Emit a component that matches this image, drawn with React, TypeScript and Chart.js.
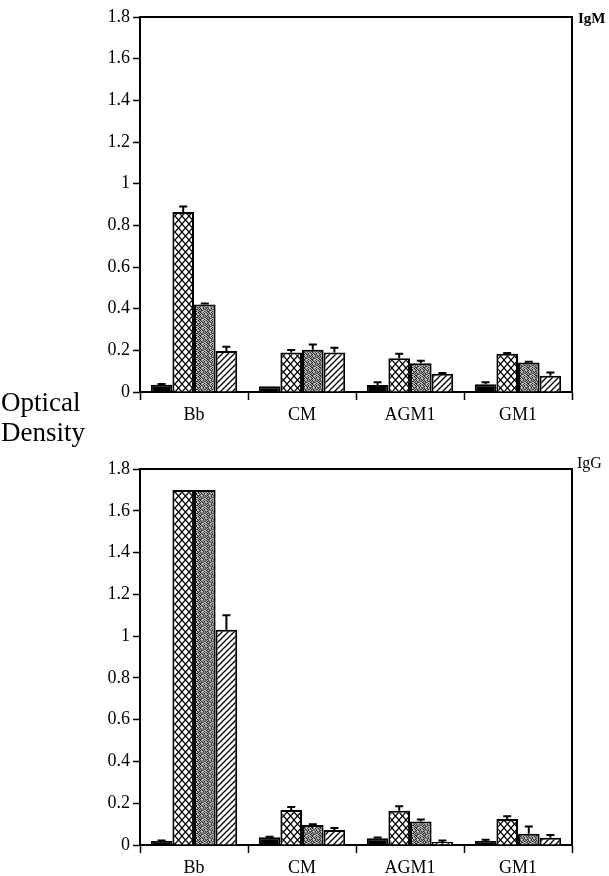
import React, { useEffect, useRef } from "react";
import { Chart, registerables } from "chart.js";

Chart.register(...registerables);

const categories = ["Bb", "CM", "AGM1", "GM1"];

// IgM panel
const igmBlack = [0.035, 0.028, 0.034, 0.037];
const igmBlackErr = [0.003, 0.0, 0.013, 0.01];
const igmCross = [0.864, 0.19, 0.162, 0.184];
const igmCrossErr = [0.026, 0.012, 0.022, 0.003];
const igmDotted = [0.42, 0.203, 0.138, 0.142];
const igmDottedErr = [0.005, 0.025, 0.012, 0.003];
const igmHatched = [0.197, 0.19, 0.088, 0.078];
const igmHatchedErr = [0.02, 0.022, 0.003, 0.016];

// IgG panel
const iggBlack = [0.019, 0.037, 0.032, 0.019];
const iggBlackErr = [0.003, 0.002, 0.004, 0.006];
const iggCross = [1.7, 0.168, 0.164, 0.124];
const iggCrossErr = [0.0, 0.014, 0.022, 0.014];
const iggDotted = [1.7, 0.096, 0.112, 0.054];
const iggDottedErr = [0.0, 0.003, 0.01, 0.034];
const iggHatched = [1.03, 0.072, 0.014, 0.035];
const iggHatchedErr = [0.07, 0.009, 0.008, 0.013];

const yMax = 1.8;
const yStep = 0.2;

const FONT = '"Liberation Serif", "Times New Roman", serif';

// fixed stipple texture for the grey bars (0 dark, 1 light, 2 mid)
const STIPPLE = [
  "02101201",
  "10210120",
  "01020112",
  "21101020",
  "01201201",
  "20120010",
  "10021102",
  "02110210",
];

function makePattern(kind: string): CanvasPattern | string {
  if (kind === "black") return "#000";
  const c = document.createElement("canvas");
  const ctx = c.getContext("2d")!;
  if (kind === "cross") {
    const w = 7;
    const h = 8;
    c.width = w;
    c.height = h;
    ctx.fillStyle = "#fff";
    ctx.fillRect(0, 0, w, h);
    ctx.strokeStyle = "#000";
    ctx.lineWidth = 1.2;
    ctx.beginPath();
    ctx.moveTo(0, 0);
    ctx.lineTo(w, h);
    ctx.moveTo(0, h);
    ctx.lineTo(w, 0);
    ctx.stroke();
  } else if (kind === "hatch") {
    const s = 6;
    c.width = s;
    c.height = s;
    ctx.fillStyle = "#fff";
    ctx.fillRect(0, 0, s, s);
    ctx.strokeStyle = "#000";
    ctx.lineWidth = 1.3;
    ctx.beginPath();
    ctx.moveTo(-1, s + 1);
    ctx.lineTo(s + 1, -1);
    ctx.moveTo(-2, 2);
    ctx.lineTo(2, -2);
    ctx.moveTo(s - 2, s + 2);
    ctx.lineTo(s + 2, s - 2);
    ctx.stroke();
  } else {
    const cols = ["#2c2c2c", "#c4c4c4", "#808080"];
    c.width = 8;
    c.height = 8;
    for (let r = 0; r < 8; r++)
      for (let k = 0; k < 8; k++) {
        ctx.fillStyle = cols[Number(STIPPLE[r][k])];
        ctx.fillRect(k, r, 1, 1);
      }
  }
  return ctx.createPattern(c, "repeat")!;
}

const errorBarPlugin = {
  id: "errorBars",
  afterDatasetsDraw(chart: any) {
    const ctx = chart.ctx;
    const yScale = chart.scales.y;
    ctx.save();
    ctx.strokeStyle = "#000";
    ctx.lineWidth = 2;
    chart.data.datasets.forEach((ds: any, i: number) => {
      const meta = chart.getDatasetMeta(i);
      meta.data.forEach((el: any, j: number) => {
        const err = ds.errors[j];
        if (!err) return;
        const yTop = yScale.getPixelForValue(ds.data[j]);
        const yErr = yScale.getPixelForValue(ds.data[j] + err);
        ctx.beginPath();
        ctx.moveTo(el.x, yTop);
        ctx.lineTo(el.x, yErr);
        ctx.moveTo(el.x - 4, yErr);
        ctx.lineTo(el.x + 4, yErr);
        ctx.stroke();
      });
    });
    ctx.restore();
  },
};

const boxPlugin = {
  id: "boxFrame",
  afterDraw(chart: any) {
    const { ctx, chartArea } = chart;
    ctx.save();
    ctx.strokeStyle = "#000";
    ctx.lineWidth = 2;
    ctx.beginPath();
    ctx.moveTo(chartArea.left, chartArea.top);
    ctx.lineTo(chartArea.right, chartArea.top);
    ctx.lineTo(chartArea.right, chartArea.bottom);
    ctx.stroke();
    ctx.restore();
  },
};

function Panel(props: {
  top: number;
  height: number;
  xHeight: number;
  series: number[][];
  errors: number[][];
}) {
  const ref = useRef<HTMLCanvasElement | null>(null);
  useEffect(() => {
    const kinds = ["black", "cross", "dotted", "hatch"];
    const chart = new Chart(ref.current!, {
      type: "bar",
      data: {
        labels: categories,
        datasets: props.series.map((d, i) => ({
          label: kinds[i],
          data: d,
          errors: props.errors[i],
          backgroundColor: makePattern(kinds[i]),
          borderColor: "#000",
          borderWidth: 2,
          barPercentage: 1.0,
          categoryPercentage: 0.8,
        })) as any,
      },
      options: {
        responsive: false,
        animation: false,
        layout: { padding: { top: 17, right: 37, left: 0, bottom: 0 } },
        plugins: { legend: { display: false }, tooltip: { enabled: false } },
        scales: {
          x: {
            border: { display: true, color: "#000", width: 2 },
            grid: {
              display: true,
              drawOnChartArea: false,
              drawTicks: true,
              tickLength: 8,
              tickColor: "#000",
              tickWidth: 1.5,
              offset: true,
            },
            ticks: {
              color: "#000",
              font: { family: FONT, size: 18 },
              padding: 4,
            },
            afterFit(scale: any) {
              scale.height = props.xHeight;
            },
          },
          y: {
            min: 0,
            max: yMax,
            border: { display: true, color: "#000", width: 2 },
            grid: {
              display: true,
              drawOnChartArea: false,
              drawTicks: true,
              tickLength: 7,
              tickColor: "#000",
              tickWidth: 1.5,
            },
            ticks: {
              stepSize: yStep,
              color: "#000",
              font: { family: FONT, size: 18 },
              padding: 3,
              callback: (v: any) => String(Number(Number(v).toFixed(1))),
            },
            afterFit(scale: any) {
              scale.width = 140;
            },
          },
        },
      },
      plugins: [errorBarPlugin, boxPlugin],
    });
    return () => chart.destroy();
  }, []);
  return (
    <canvas
      ref={ref}
      width={609}
      height={props.height}
      style={{
        position: "absolute",
        left: 0,
        top: props.top,
        width: 609,
        height: props.height,
      }}
    />
  );
}

export default function App() {
  return (
    <div
      style={{
        position: "absolute",
        left: 0,
        top: 0,
        width: 609,
        height: 876,
        background: "#fff",
        fontFamily: FONT,
        color: "#000",
        overflow: "hidden",
      }}
    >
      <Panel
        top={0}
        height={440}
        xHeight={48}
        series={[igmBlack, igmCross, igmDotted, igmHatched]}
        errors={[igmBlackErr, igmCrossErr, igmDottedErr, igmHatchedErr]}
      />
      <Panel
        top={452}
        height={424}
        xHeight={31}
        series={[iggBlack, iggCross, iggDotted, iggHatched]}
        errors={[iggBlackErr, iggCrossErr, iggDottedErr, iggHatchedErr]}
      />
      <div
        style={{
          position: "absolute",
          left: 1,
          top: 387,
          fontSize: 27,
          lineHeight: "30px",
        }}
      >
        Optical
        <br />
        Density
      </div>
      <div
        style={{
          position: "absolute",
          left: 578,
          top: 10,
          fontSize: 15,
          fontWeight: "bold",
        }}
      >
        IgM
      </div>
      <div
        style={{
          position: "absolute",
          left: 577,
          top: 454,
          fontSize: 16,
        }}
      >
        IgG
      </div>
    </div>
  );
}
